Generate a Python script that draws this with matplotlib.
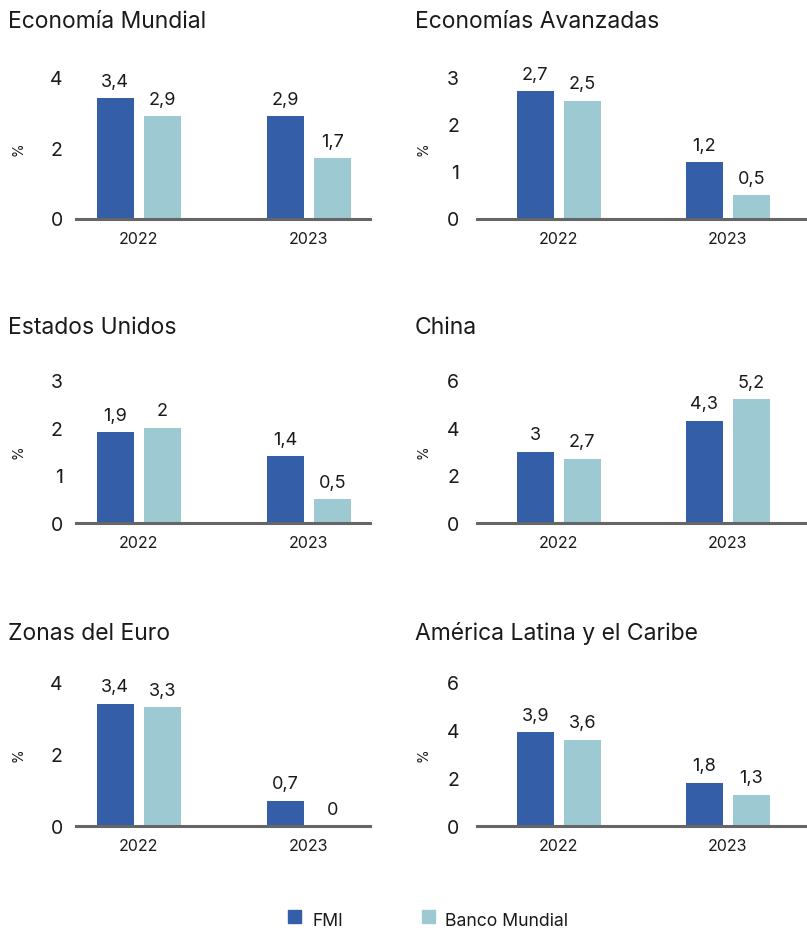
import matplotlib
matplotlib.use("Agg")
import matplotlib.pyplot as plt
from matplotlib.patches import Rectangle

plt.rcParams["font.family"] = ["Inter", "DejaVu Sans"]

# Growth forecasts (%), by region
years = ["2022", "2023"]
series_names = ["FMI", "Banco Mundial"]
titles = [
    "Economía Mundial", "Economías Avanzadas",
    "Estados Unidos", "China",
    "Zonas del Euro", "América Latina y el Caribe",
]
fmi = [
    [3.4, 2.9],
    [2.7, 1.2],
    [1.9, 1.4],
    [3.0, 4.3],
    [3.4, 0.7],
    [3.9, 1.8],
]
banco_mundial = [
    [2.9, 1.7],
    [2.5, 0.5],
    [2.0, 0.5],
    [2.7, 5.2],
    [3.3, 0.0],
    [3.6, 1.3],
]
y_ticks = [
    [0, 2, 4],
    [0, 1, 2, 3],
    [0, 1, 2, 3],
    [0, 2, 4, 6],
    [0, 2, 4],
    [0, 2, 4, 6],
]

DARK = "#355EA9"
LIGHT = "#9DCAD2"
AXIS_GRAY = "#666666"
TEXT = "#1a1a1a"

W, H = 807, 929
fig = plt.figure(figsize=(W / 100, H / 100), dpi=100)


def px_rect(left, right, top, bottom):
    return [left / W, 1 - bottom / H, (right - left) / W, (bottom - top) / H]


def fmt(v):
    if float(v).is_integer():
        return str(int(v))
    return f"{v:.1f}".replace(".", ",")


col_x = [(76, 370, -0.37, 1.36, 9.5), (477, 807, -0.483, 1.467, 13)]
row_y = [(78, 219.5, 21.5), (381, 524, 328.5), (683, 827, 633.5)]
title_x = [8, 415]
pct_x = [19, 424]

bar_w = 0.22
off = 0.139

for i in range(6):
    r, c = divmod(i, 2)
    left, right, x0, x1, ypad = col_x[c]
    top, bottom, ty = row_y[r]
    ax = fig.add_axes(px_rect(left, right, top, bottom))
    xs = list(range(len(years)))
    b1 = ax.bar([x - off for x in xs], fmi[i], width=bar_w, color=DARK, zorder=2)
    b2 = ax.bar([x + off for x in xs], banco_mundial[i], width=bar_w, color=LIGHT, zorder=2)
    for bars, vals in ((b1, fmi[i]), (b2, banco_mundial[i])):
        for rect, v in zip(bars, vals):
            ax.annotate(fmt(v), (rect.get_x() + rect.get_width() / 2, v),
                        xytext=(0, 6), textcoords="offset points",
                        ha="center", va="bottom", fontsize=13, color=TEXT,
                        annotation_clip=False)
    ax.set_xlim(x0, x1)
    ax.set_ylim(0, y_ticks[i][-1])
    ax.set_yticks(y_ticks[i])
    ax.set_yticklabels([str(t) for t in y_ticks[i]])
    ax.set_xticks(xs)
    ax.set_xticklabels(years)
    for s in ("top", "right", "left"):
        ax.spines[s].set_visible(False)
    ax.spines["bottom"].set_color(AXIS_GRAY)
    ax.spines["bottom"].set_linewidth(2.2)
    ax.spines["bottom"].set_zorder(3)
    ax.tick_params(axis="x", length=0, pad=9, labelsize=11.5, labelcolor=TEXT)
    ax.tick_params(axis="y", length=0, pad=ypad, labelsize=14, labelcolor=TEXT)
    ax.patch.set_visible(False)
    fig.text(title_x[c] / W, 1 - ty / H, titles[i], fontsize=16.5, color=TEXT,
             ha="left", va="center")
    fig.text(pct_x[c] / W, 1 - ((top + bottom) / 2) / H, "%", rotation=90,
             fontsize=10, color=TEXT, ha="center", va="center")

# Legend along the bottom
legend_items = [(288, 313, DARK, series_names[0]), (422, 445, LIGHT, series_names[1])]
for sx, tx, col, label in legend_items:
    fig.patches.append(Rectangle((sx / W, 1 - 924 / H), 13 / W, 13 / H,
                                 transform=fig.transFigure, color=col))
    fig.text(tx / W, 1 - 921.5 / H, label, fontsize=12.7, color=TEXT,
             ha="left", va="center")

fig.savefig("out.png", dpi=100)
